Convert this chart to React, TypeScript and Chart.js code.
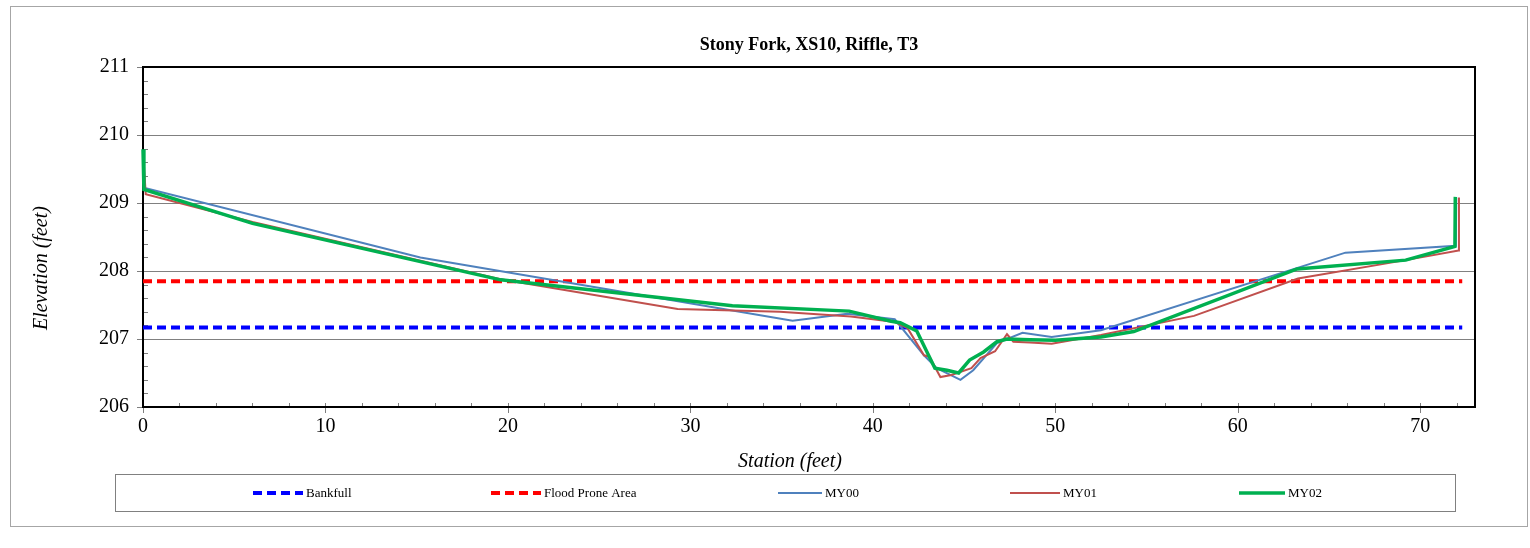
import React, { useEffect, useRef } from "react";
import { Chart, registerables } from "chart.js";

Chart.register(...registerables);

// ---- Survey data (station in feet, elevation in feet) ----
const bankfullElev = 207.17;
const floodProneElev = 207.85;
const refLineStations = [0, 72.3];

const my00Station = [0, 0.1, 15.2, 35.6, 38.6, 41.2, 42.8, 43.5, 44.8, 45.5, 46.8, 48.2, 49.8, 52.5, 65.9, 71.95, 71.97];
const my00Elev = [209.78, 209.22, 208.2, 207.27, 207.37, 207.29, 206.76, 206.57, 206.4, 206.54, 206.94, 207.09, 207.03, 207.13, 208.27, 208.37, 209.08];

const my01Station = [0, 0.15, 6.0, 19.6, 29.3, 34.9, 38.8, 41.2, 41.9, 42.8, 43.1, 43.7, 44.3, 45.4, 45.9, 46.7, 47.35, 47.7, 48.6, 49.8, 52.5, 57.6, 63.3, 69.2, 72.1, 72.12];
const my01Elev = [209.78, 209.13, 208.72, 207.88, 207.44, 207.4, 207.33, 207.25, 207.16, 206.76, 206.74, 206.44, 206.47, 206.57, 206.72, 206.82, 207.07, 206.96, 206.95, 206.93, 207.06, 207.34, 207.89, 208.16, 208.3, 209.08];

const my02Station = [0, 0.05, 6.0, 19.6, 32.3, 38.7, 41.0, 41.5, 42.4, 43.4, 44.06, 44.7, 45.3, 46.07, 46.8, 47.35, 48.6, 50.0, 52.5, 54.3, 63.25, 69.2, 71.9, 71.92];
const my02Elev = [209.79, 209.2, 208.7, 207.87, 207.49, 207.41, 207.26, 207.24, 207.12, 206.57, 206.54, 206.5, 206.69, 206.81, 206.96, 207.0, 206.99, 206.98, 207.03, 207.11, 208.03, 208.16, 208.36, 209.09];

const xTickValues = [0, 10, 20, 30, 40, 50, 60, 70];
const yTickValues = [206, 207, 208, 209, 210, 211];

const chartTitle = "Stony Fork, XS10, Riffle, T3";
const xAxisTitle = "Station (feet)";
const yAxisTitle = "Elevation (feet)";

const SERIF = '"Liberation Serif", "Times New Roman", serif';

const toPoints = (xs: number[], ys: number[]) => xs.map((x, i) => ({ x, y: ys[i] }));

// Legend entries, drawn in a single framed row under the plot
const legendItems = [
  { label: "Bankfull", color: "#0000FF", width: 4, dash: [9, 5], x0: 253, x1: 303 },
  { label: "Flood Prone Area", color: "#FF0000", width: 4, dash: [9, 5], x0: 491, x1: 541 },
  { label: "MY00", color: "#4F81BD", width: 2, dash: [], x0: 778, x1: 822 },
  { label: "MY01", color: "#C0504D", width: 2, dash: [], x0: 1010, x1: 1060 },
  { label: "MY02", color: "#00B050", width: 3.5, dash: [], x0: 1239, x1: 1285 },
];

const framePlugin = {
  id: "frame",
  beforeDraw(chart: any) {
    const { ctx, chartArea } = chart;
    ctx.save();
    ctx.fillStyle = "#ffffff";
    ctx.fillRect(0, 0, chart.width, chart.height);

    // outer chart frame
    ctx.strokeStyle = "#a6a6a6";
    ctx.lineWidth = 1;
    ctx.strokeRect(10.5, 6.5, 1517, 520);

    // title
    ctx.fillStyle = "#000";
    ctx.textAlign = "center";
    ctx.textBaseline = "middle";
    ctx.font = `bold 18px ${SERIF}`;
    ctx.fillText(chartTitle, (chartArea.left + chartArea.right) / 2, 45);

    // axis titles
    ctx.font = `italic 20px ${SERIF}`;
    ctx.fillText(xAxisTitle, 790, 462);
    ctx.save();
    ctx.translate(42, 268);
    ctx.rotate(-Math.PI / 2);
    ctx.fillText(yAxisTitle, 0, 0);
    ctx.restore();

    // legend box
    ctx.strokeStyle = "#808080";
    ctx.lineWidth = 1;
    ctx.strokeRect(115.5, 474.5, 1340, 37);
    const ly = 493;
    ctx.font = `13px ${SERIF}`;
    ctx.textAlign = "left";
    legendItems.forEach((it) => {
      ctx.beginPath();
      ctx.strokeStyle = it.color;
      ctx.lineWidth = it.width;
      ctx.setLineDash(it.dash);
      ctx.moveTo(it.x0, ly);
      ctx.lineTo(it.x1, ly);
      ctx.stroke();
      ctx.setLineDash([]);
      ctx.fillStyle = "#000";
      ctx.fillText(it.label, it.x1 + 3, ly + 1);
    });
    ctx.restore();
  },
  beforeDatasetsDraw(chart: any) {
    const { ctx, chartArea, scales } = chart;
    const { left, right, top, bottom } = chartArea;
    ctx.save();
    ctx.strokeStyle = "#7f7f7f";
    ctx.lineWidth = 1;
    ctx.beginPath();
    // x ticks: major through the axis, minor inside
    for (let v = 0; v <= 72; v += 2) {
      const px = Math.round(scales.x.getPixelForValue(v)) + 0.5;
      if (v % 10 === 0) {
        ctx.moveTo(px, bottom - 4);
        ctx.lineTo(px, bottom + 6);
      } else {
        ctx.moveTo(px, bottom - 4);
        ctx.lineTo(px, bottom);
      }
    }
    // y ticks: major outside, minor inside
    for (let i = 0; i <= 25; i++) {
      const v = 206 + i * 0.2;
      const py = Math.round(scales.y.getPixelForValue(v)) + 0.5;
      if (i % 5 === 0) {
        ctx.moveTo(left - 6, py);
        ctx.lineTo(left, py);
      } else {
        ctx.moveTo(left, py);
        ctx.lineTo(left + 5, py);
      }
    }
    ctx.stroke();

    // plot frame
    ctx.strokeStyle = "#000";
    ctx.lineWidth = 2;
    ctx.strokeRect(left, top, right - left, bottom - top);
    ctx.restore();
  },
};

export default function App() {
  const canvasRef = useRef<HTMLCanvasElement | null>(null);

  useEffect(() => {
    const canvas = canvasRef.current;
    if (!canvas) return;
    const chart = new Chart(canvas, {
      type: "line",
      data: {
        datasets: [
          {
            label: "Bankfull",
            data: toPoints(refLineStations, refLineStations.map(() => bankfullElev)),
            borderColor: "#0000FF",
            borderWidth: 4,
            borderDash: [9, 5],
            pointRadius: 0,
            order: 5,
          },
          {
            label: "Flood Prone Area",
            data: toPoints(refLineStations, refLineStations.map(() => floodProneElev)),
            borderColor: "#FF0000",
            borderWidth: 4,
            borderDash: [9, 5],
            pointRadius: 0,
            order: 4,
          },
          {
            label: "MY00",
            data: toPoints(my00Station, my00Elev),
            borderColor: "#4F81BD",
            borderWidth: 2,
            pointRadius: 0,
            order: 3,
          },
          {
            label: "MY01",
            data: toPoints(my01Station, my01Elev),
            borderColor: "#C0504D",
            borderWidth: 2,
            pointRadius: 0,
            order: 2,
          },
          {
            label: "MY02",
            data: toPoints(my02Station, my02Elev),
            borderColor: "#00B050",
            borderWidth: 3.5,
            pointRadius: 0,
            order: 1,
          },
        ],
      },
      options: {
        animation: false,
        responsive: false,
        maintainAspectRatio: false,
        clip: false,
        layout: { padding: { left: 0, top: 67, right: 55, bottom: 81 } },
        elements: { line: { tension: 0, fill: false } },
        plugins: {
          legend: { display: false },
          title: { display: false },
          tooltip: { enabled: false },
        },
        scales: {
          x: {
            type: "linear",
            min: 0,
            max: 73,
            afterBuildTicks: (s: any) => {
              s.ticks = xTickValues.map((value) => ({ value }));
            },
            afterFit: (s: any) => {
              s.height = 60;
            },
            grid: { display: true, drawOnChartArea: false, drawTicks: false },
            border: { display: false },
            ticks: {
              font: { family: SERIF, size: 20 },
              color: "#000",
              padding: 8,
              maxRotation: 0,
              autoSkip: false,
            },
          },
          y: {
            type: "linear",
            min: 206,
            max: 211,
            afterBuildTicks: (s: any) => {
              s.ticks = yTickValues.map((value) => ({ value }));
            },
            afterFit: (s: any) => {
              s.width = 143;
            },
            grid: { color: "#808080", lineWidth: 1, drawTicks: false },
            border: { display: false },
            ticks: {
              font: { family: SERIF, size: 20 },
              color: "#000",
              padding: 14,
            },
          },
        },
      } as any,
      plugins: [framePlugin],
    });
    return () => chart.destroy();
  }, []);

  return (
    <div style={{ position: "absolute", left: 0, top: 0, width: 1530, height: 548 }}>
      <canvas ref={canvasRef} width={1530} height={548} style={{ width: 1530, height: 548, display: "block" }} />
    </div>
  );
}
